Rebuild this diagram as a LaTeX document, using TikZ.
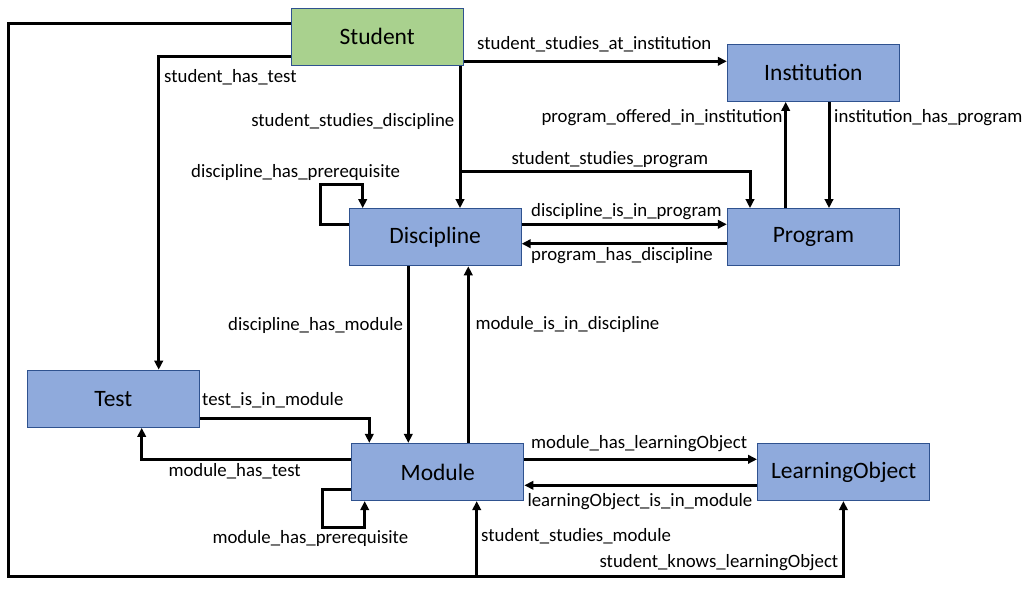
\documentclass[tikz,border=0pt]{standalone}
\usepackage{fontspec}
\setmainfont{Carlito}
\usetikzlibrary{arrows.meta}
\definecolor{boxblue}{HTML}{8FAADC}
\definecolor{boxgreen}{HTML}{A9D18E}
\definecolor{boxline}{HTML}{2F528F}
\begin{document}
\begin{tikzpicture}[x=1pt,y=-1pt,
  entity/.style={draw=boxline, line width=1.2pt, fill=boxblue, minimum width=172pt, minimum height=57pt, inner sep=0pt, font=\fontsize{23.5}{26}\selectfont},
  lbl/.style={inner sep=0pt, font=\fontsize{18.8}{21}\selectfont},
  arr/.style={line width=3pt, -{Triangle[length=9pt,width=8.5pt]}},
  ln/.style={line width=3pt}
]
\useasboundingbox[fill=white] (0,0) rectangle (1032,593);

% entities
\node[entity, fill=boxgreen] (student) at (377.2,36.8) {Student};
\node[entity] (inst) at (813.4,72.8) {Institution};
\node[entity] (prog) at (813.4,237.2) {Program};
\node[entity] (disc) at (435.1,237.2) {Discipline};
\node[entity] (test) at (113.3,398.8) {Test};
\node[entity] (module) at (437.8,472) {Module};
\node[entity] (lo) at (843.6,472) {LearningObject};

% junctions
\coordinate (jprog) at (460,171.7);
\coordinate (jmod) at (476.7,576.3);

% outer loop: student_knows_learningObject
\draw[arr] (student.west |- 0,24) -- (8,24) -- (8,576.3) -- (843.4,576.3) -- (lo.south -| 843.4,0);
\draw[arr] (jmod) -- (module.south -| jmod);

% student_has_test
\draw[arr] (student.west |- 0,56.7) -| (test.north -| 158.7,0);
% student_studies_at_institution
\draw[arr] (student.east |- 0,61.3) -- (inst.west |- 0,61.3);
% student_studies_discipline
\draw[arr] (student.south -| jprog) -- (disc.north -| jprog);
% student_studies_program
\draw[arr] (jprog) -| (prog.north -| 750,0);
% discipline_has_prerequisite
\draw[arr] (disc.west |- 0,224.3) -| (320,184.3) -| (disc.north -| 362.7,0);
% discipline_is_in_program / program_has_discipline
\draw[arr] (disc.east |- 0,224.3) -- (prog.west |- 0,224.3);
\draw[arr] (prog.west |- 0,243.7) -- (disc.east |- 0,243.7);
% program_offered_in_institution / institution_has_program
\draw[arr] (prog.north -| 785.7,0) -- (inst.south -| 785.7,0);
\draw[arr] (inst.south -| 829,0) -- (prog.north -| 829,0);
% discipline_has_module / module_is_in_discipline
\draw[arr] (disc.south -| 408.3,0) -- (module.north -| 408.3,0);
\draw[arr] (module.north -| 468.3,0) -- (disc.south -| 468.3,0);
% test_is_in_module / module_has_test
\draw[arr] (test.east |- 0,418.3) -| (module.north -| 369.3,0);
\draw[arr] (module.west |- 0,459.3) -| (test.south -| 141.7,0);
% module_has_prerequisite
\draw[arr] (module.west |- 0,489.7) -| (322.3,527.3) -| (module.south -| 364.7,0);
% module_has_learningObject / learningObject_is_in_module
\draw[arr] (module.east |- 0,459.3) -- (lo.west |- 0,459.3);
\draw[arr] (lo.west |- 0,485.3) -- (module.east |- 0,485.3);

% labels
\node[lbl, anchor=west] (l1) at (477,44.5) {student\_studies\_at\_institution};
\node[lbl, anchor=west] (l2) at (164,77.5) {student\_has\_test};
\node[lbl, anchor=east] (l3) at (454.5,121) {student\_studies\_discipline};
\node[lbl, anchor=west] (l4) at (511.3,159.5) {student\_studies\_program};
\node[lbl, anchor=west] (l5) at (191,172) {discipline\_has\_prerequisite};
\node[lbl, anchor=east] (l6) at (782.7,117.5) {program\_offered\_in\_institution};
\node[lbl, anchor=west] (l7) at (834,117.5) {institution\_has\_program};
\node[lbl, anchor=west] (l8) at (531,211.5) {discipline\_is\_in\_program};
\node[lbl, anchor=west] (l9) at (531,256) {program\_has\_discipline};
\node[lbl, anchor=east] (l10) at (403.3,325) {discipline\_has\_module};
\node[lbl, anchor=west] (l11) at (475.3,324.5) {module\_is\_in\_discipline};
\node[lbl, anchor=west] (l12) at (202,400) {test\_is\_in\_module};
\node[lbl, anchor=west] (l13) at (168.3,471.5) {module\_has\_test};
\node[lbl, anchor=west] (l14) at (531,444) {module\_has\_learningObject};
\node[lbl, anchor=west] (l15) at (527.3,502) {learningObject\_is\_in\_module};
\node[lbl, anchor=west] (l16) at (212.3,538) {module\_has\_prerequisite};
\node[lbl, anchor=west] (l17) at (481,536) {student\_studies\_module};
\node[lbl, anchor=east] (l18) at (838.5,563) {student\_knows\_learningObject};
\end{tikzpicture}
\end{document}
